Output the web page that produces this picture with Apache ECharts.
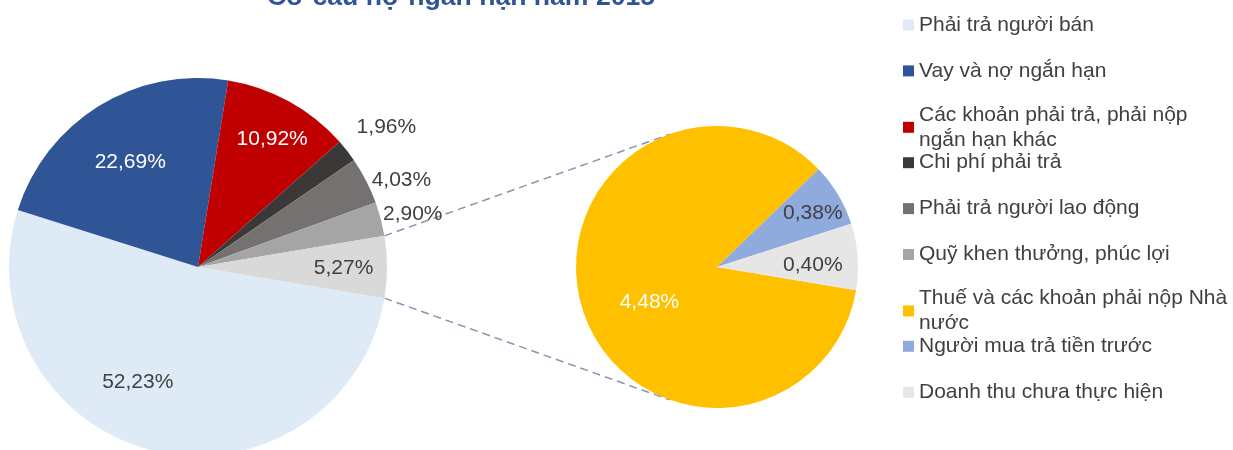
<!DOCTYPE html>
<html>
<head>
<meta charset="utf-8">
<script src="https://cdn.jsdelivr.net/npm/echarts@6/dist/echarts.min.js"></script>
<style>
  html, body { margin: 0; padding: 0; background: #fff; }
  #main { width: 1233px; height: 450px; }
</style>
</head>
<body>
<div id="main"></div>
<script>
// số liệu (%)
var mainNames = ['Phải trả người bán', 'Vay và nợ ngắn hạn', 'Các khoản phải trả, phải nộp\nngắn hạn khác',
  'Chi phí phải trả', 'Phải trả người lao động', 'Quỹ khen thưởng, phúc lợi', 'Khác'];
var mainValues = [52.23, 22.69, 10.92, 1.96, 4.03, 2.90, 5.27];
var subNames = ['Thuế và các khoản phải nộp Nhà\nnước', 'Người mua trả tiền trước', 'Doanh thu chưa thực hiện'];
var subValues = [4.48, 0.38, 0.40];

var mainColors = ['#DEEAF6', '#2F5597', '#C00000', '#3B3838', '#767171', '#A5A5A5', '#D9D9D9'];
var subColors = ['#FFC000', '#8FAADC', '#E7E6E6'];
var whiteLabel = ['22,69%', '10,92%', '4,48%'];

var MAIN_C = [198, 267], MAIN_R = 189;
var SUB_C = [717, 267], SUB_R = 141;

// vị trí nhãn: [tỉ lệ bán kính, góc]
var mainSpots = [[0.69, -117.5], [0.66, 122.9], [0.78, 59.8], [1.24, 36.5], [1.17, 23.1], [1.17, 13.8], [0.77, -0.4]];
var subSpots = [[0.54, 207.5], [0.78, 29.4], [0.68, 1.2]];

var total = 0;
mainValues.forEach(function (v) { total += v });
// lát "Khác" nằm giữa phía bên phải
var startAngle = -mainValues[mainValues.length - 1] / total * 180;

function pct(v) {
  return v.toFixed(2).replace('.', ',') + '%';
}

function rim(c, r, deg) {
  var a = deg * Math.PI / 180;
  return [c[0] + r * Math.cos(a), c[1] - r * Math.sin(a)];
}

function placeLabel(c, r, spots) {
  return function (p) {
    var s = spots[p.dataIndex];
    var pt = rim(c, s[0] * r, s[1]);
    return { x: pt[0], y: pt[1], align: 'center', verticalAlign: 'middle' };
  };
}

function buildData(names, values, colors) {
  return values.map(function (v, i) {
    var txt = pct(v);
    return {
      name: names[i],
      value: v,
      itemStyle: { color: colors[i] },
      label: { color: whiteLabel.indexOf(txt) >= 0 ? '#FFFFFF' : '#404040' }
    };
  });
}

var labelCommon = {
  show: true,
  position: 'inside',
  fontFamily: 'Liberation Sans',
  fontSize: 21,
  formatter: function (p) { return pct(p.value) }
};

// chú thích: mỗi mục một legend để giữ khoảng cách đều
var legendNames = mainNames.slice(0, 6).concat(subNames);
var legends = legendNames.map(function (n, i) {
  return {
    data: [n],
    orient: 'vertical',
    left: 903,
    top: 23 + i * 45.9 - 10.5,
    padding: 0,
    itemWidth: 11,
    itemHeight: 11,
    itemGap: 0,
    icon: 'rect',
    selectedMode: false,
    textStyle: {
      fontFamily: 'Liberation Sans',
      fontSize: 21,
      color: '#404040',
      lineHeight: 25,
      height: 25
    }
  };
});

var p1 = rim(MAIN_C, MAIN_R, -startAngle), p2 = rim(MAIN_C, MAIN_R, startAngle);
var q1 = rim(SUB_C, SUB_R, 109.5), q2 = rim(SUB_C, SUB_R, -109.5);
var dash = { stroke: '#8497B0', lineWidth: 1.5, lineDash: [8, 5] };

var chart = echarts.init(document.getElementById('main'));
chart.setOption({
  animation: false,
  title: {
    text: 'Cơ cấu nợ ngắn hạn năm 2015',
    left: 267,
    top: -16,
    padding: 0,
    textStyle: { fontFamily: 'Liberation Sans', fontSize: 26.6, fontWeight: 'bold', color: '#2F5597' }
  },
  legend: legends,
  graphic: [
    { type: 'line', shape: { x1: p1[0], y1: p1[1], x2: q1[0], y2: q1[1] }, style: dash },
    { type: 'line', shape: { x1: p2[0], y1: p2[1], x2: q2[0], y2: q2[1] }, style: dash }
  ],
  series: [
    {
      type: 'pie',
      center: MAIN_C,
      radius: MAIN_R,
      startAngle: startAngle,
      avoidLabelOverlap: false,
      silent: true,
      label: labelCommon,
      labelLine: { show: false },
      labelLayout: placeLabel(MAIN_C, MAIN_R, mainSpots),
      data: buildData(mainNames, mainValues, mainColors)
    },
    {
      type: 'pie',
      center: SUB_C,
      radius: SUB_R,
      startAngle: startAngle,
      avoidLabelOverlap: false,
      silent: true,
      label: labelCommon,
      labelLine: { show: false },
      labelLayout: placeLabel(SUB_C, SUB_R, subSpots),
      data: buildData(subNames, subValues, subColors)
    }
  ]
});
</script>
</body>
</html>
